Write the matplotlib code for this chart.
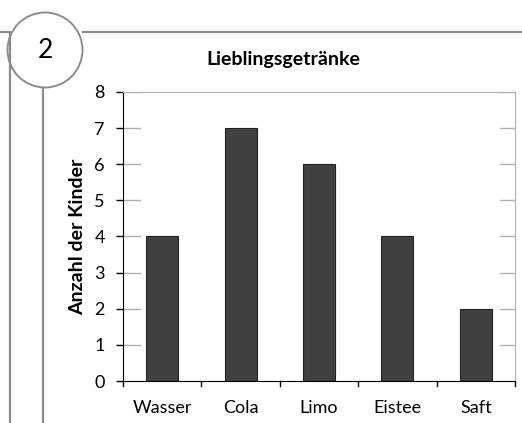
import matplotlib.pyplot as plt
from matplotlib.patches import Circle
from matplotlib.lines import Line2D

categories = ['Wasser', 'Cola', 'Limo', 'Eistee', 'Saft']
values = [4, 7, 6, 4, 2]
yticks = [0, 1, 2, 3, 4, 5, 6, 7, 8]

plt.rcParams['font.family'] = ['Lato', 'DejaVu Sans']

W, H = 522, 423
fig = plt.figure(figsize=(W / 100, H / 100), dpi=100)

# worksheet frame
frame = '#8c8c8c'
def px(x, y):
    return x / W, 1 - y / H

for (x0, y0), (x1, y1) in [((0, 32), (8, 32)), ((83, 32), (522, 32)),
                           ((10, 32), (10, 423)), ((43, 88), (43, 423))]:
    a, b = px(x0, y0)
    c, d = px(x1, y1)
    fig.add_artist(Line2D([a, c], [b, d], color=frame, lw=1.6,
                          transform=fig.transFigure))

cx, cy = px(45, 50)
fig.add_artist(Circle((45, H - 50), 37.5, transform=None, facecolor='white',
                      edgecolor=frame, lw=1.4))
fig.text(cx, cy, '2', fontsize=19, ha='center', va='center')

ax = fig.add_axes([123 / W, 42 / H, 392 / W, 289 / H])
x = range(len(categories))
ax.bar(x, values, width=0.41, color='#404040', edgecolor='#222222', lw=0.8,
       zorder=3)

ax.set_xlim(-0.5, len(categories) - 0.5)
ax.set_ylim(0, 8)
ax.set_yticks(yticks)
ax.set_xticks(list(x))
ax.set_xticklabels(categories, fontsize=13)
ax.tick_params(axis='x', length=0, pad=14)
ax.tick_params(axis='y', labelsize=13, length=5, width=1, pad=8)

# category boundary ticks
for b in [i - 0.5 for i in range(len(categories) + 1)]:
    ax.plot([b, b], [0, -0.13], color='black', lw=1, clip_on=False)

# short gray grid stubs at the edges
for t in yticks[1:]:
    ax.plot([-0.5, -0.28], [t, t], color='#b0b0b0', lw=1, zorder=1)
    ax.plot([4.31, 4.5], [t, t], color='#b0b0b0', lw=1, zorder=1)

for s in ['top', 'right']:
    ax.spines[s].set_color('#b0b0b0')
ax.spines['left'].set_color('black')
ax.spines['bottom'].set_color('black')

ax.set_ylabel('Anzahl der Kinder', fontsize=14, fontweight='bold', labelpad=6)
fig.text(283 / W, 1 - 60 / H, 'Lieblingsgetränke', fontsize=14,
         fontweight='bold', ha='center', va='center')

fig.savefig('out.png', dpi=100)
